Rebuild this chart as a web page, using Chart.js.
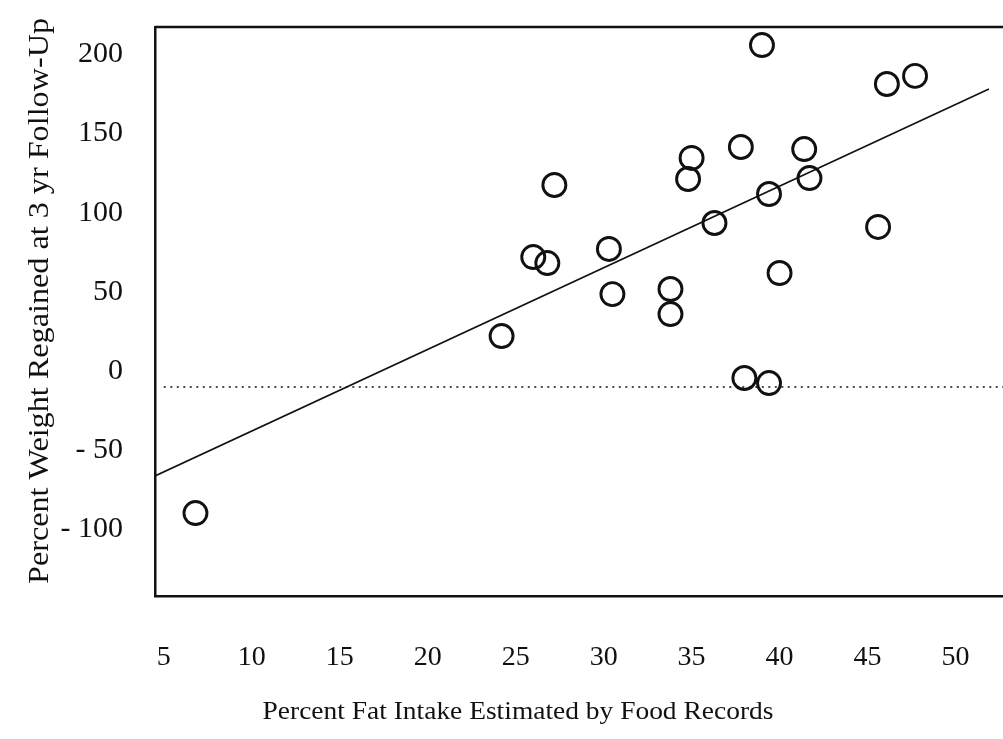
<!DOCTYPE html>
<html>
<head>
<meta charset="utf-8">
<script src="https://cdn.jsdelivr.net/npm/chart.js@4"></script>
<style>
  html, body { margin: 0; padding: 0; background: #fff; overflow: hidden; }
  #wrap { width: 1003px; height: 739px; position: relative; overflow: hidden; }
  canvas { display: block; }
</style>
</head>
<body>
<div id="wrap"><canvas id="c"></canvas></div>
<script>
// ---- data ----
const fatIntake = [6.8, 24.2, 26.0, 26.8, 27.2, 30.3, 30.5, 33.8, 33.8, 34.8, 35.0, 36.3, 37.8, 38.0, 39.0, 39.4, 39.4, 40.0, 41.4, 41.7, 45.6, 46.1, 47.7];
const weightRegained = [-79.6, 32.2, 82.1, 78.3, 127.6, 87.2, 58.7, 61.9, 46.1, 131.4, 144.7, 103.6, 151.6, 5.7, 216.0, 2.5, 121.9, 72.0, 150.3, 132.0, 101.1, 191.4, 196.5];
const fitLineX = [4.5, 51.9];
const fitLineY = [-56.2, 188.3];
const baselineX = [5, 52.7];
const baselineY = [0, 0];
const xTicks = [5, 10, 15, 20, 25, 30, 35, 40, 45, 50];
const yTicks = [200, 150, 100, 50, 0, -50, -100];
const xTitle = 'Percent Fat Intake Estimated by Food Records';
const yTitle = 'Percent Weight Regained at 3 yr Follow-Up';

const FONT = '"Liberation Serif", "DejaVu Serif", serif';
const INK = '#111';

const points = fatIntake.map((x, i) => ({ x: x, y: weightRegained[i] }));
const fitLine = fitLineX.map((x, i) => ({ x: x, y: fitLineY[i] }));
const baseline = baselineX.map((x, i) => ({ x: x, y: baselineY[i] }));

function noEdgePadding(s) {
  s.paddingLeft = 0; s.paddingRight = 0; s.paddingTop = 0; s.paddingBottom = 0;
}

const decor = {
  id: 'decor',
  afterDraw(chart) {
    const ctx = chart.ctx;
    const a = chart.chartArea;
    ctx.save();
    // top frame line
    ctx.strokeStyle = INK;
    ctx.lineWidth = 2.5;
    ctx.beginPath();
    ctx.moveTo(a.left, a.top);
    ctx.lineTo(a.right, a.top);
    ctx.stroke();
    // axis titles
    ctx.fillStyle = INK;
    ctx.textAlign = 'center';
    ctx.textBaseline = 'middle';
    ctx.save();
    ctx.translate(518, 712);
    ctx.scale(1.056, 1);
    ctx.font = '26px ' + FONT;
    ctx.fillText(xTitle, 0, 0);
    ctx.restore();
    ctx.translate(40, 301);
    ctx.rotate(-Math.PI / 2);
    ctx.scale(1.11, 1);
    ctx.font = '29px ' + FONT;
    ctx.fillText(yTitle, 0, 0);
    ctx.restore();
  }
};

new Chart(document.getElementById('c'), {
  type: 'scatter',
  data: {
    datasets: [
      {
        type: 'line',
        data: baseline,
        borderColor: INK,
        borderWidth: 1.6,
        borderDash: [2, 4.5],
        pointRadius: 0,
        fill: false
      },
      {
        type: 'line',
        data: fitLine,
        borderColor: INK,
        borderWidth: 1.6,
        pointRadius: 0,
        fill: false
      },
      {
        data: points,
        pointStyle: 'circle',
        pointRadius: 11.5,
        pointBorderWidth: 2.9,
        borderColor: INK,
        backgroundColor: 'rgba(255,255,255,0)',
        pointHoverRadius: 11.5
      }
    ]
  },
  options: {
    responsive: true,
    maintainAspectRatio: false,
    animation: false,
    devicePixelRatio: 1,
    layout: { autoPadding: false, padding: { top: 27, right: 0, left: 0, bottom: 0 } },
    plugins: { legend: { display: false }, tooltip: { enabled: false } },
    scales: {
      x: {
        type: 'linear',
        min: 4.5,
        max: 52.7,
        grid: { display: false },
        border: { display: true, color: INK, width: 2.5 },
        afterBuildTicks: s => { s.ticks = xTicks.map(v => ({ value: v })); },
        afterFit: s => { s.height = 143; noEdgePadding(s); },
        ticks: {
          color: INK,
          font: { family: FONT, size: 28 },
          padding: 37,
          maxRotation: 0,
          autoSkip: false
        }
      },
      y: {
        type: 'linear',
        min: -132,
        max: 227.4,
        grid: { display: false },
        border: { display: true, color: INK, width: 2.5 },
        afterBuildTicks: s => { s.ticks = yTicks.map(v => ({ value: v })); },
        afterFit: s => { s.width = 155; noEdgePadding(s); },
        ticks: {
          color: INK,
          font: { family: FONT, size: 30 },
          padding: 24,
          labelOffset: -16,
          autoSkip: false,
          callback: v => (v < 0 ? '- ' + Math.abs(v) : String(v))
        }
      }
    }
  },
  plugins: [decor]
});
</script>
</body>
</html>
